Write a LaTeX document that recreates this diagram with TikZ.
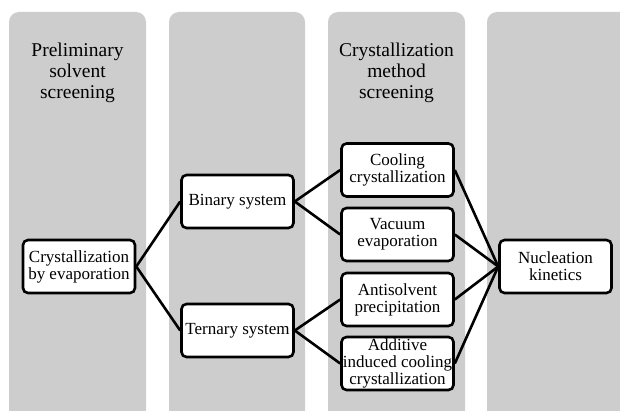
\documentclass[tikz,border=0pt]{standalone}
\usepackage{fontspec}
\setmainfont{Liberation Serif}
\usetikzlibrary{positioning}
\definecolor{colgray}{RGB}{205,205,205}

\begin{document}
\begin{tikzpicture}[x=1pt,y=1pt,
    column/.style={fill=colgray,rounded corners=10pt},
    heading/.style={align=center,font=\fontsize{19.5}{21}\selectfont},
    box/.style={draw,fill=white,line width=2.6pt,rounded corners=5pt,align=center,
      minimum width=112pt,minimum height=53pt,inner sep=1pt,
      font=\fontsize{17}{17}\selectfont},
    link/.style={line width=2.6pt}]
  \useasboundingbox (0,0) rectangle (620,410);
  \begin{scope}
    \clip (0,0) rectangle (620,410);
    \fill[column] (9,-10)   rectangle (146,398);
    \fill[column] (169,-10) rectangle (305,398);
    \fill[column] (328,-10) rectangle (465,398);
    \fill[column] (487,-10) rectangle (640,398);
  \end{scope}

  \node[heading] (h_1) at (77.5,337)  {Preliminary\\solvent\\screening};
  \node[heading] (h_3) at (396.5,337) {Crystallization\\method\\screening};

  \node[box] (evap) at (79,143.5)    {Crystallization\\by evaporation};
  \node[box] (bin)  at (237.5,208.5) {Binary system};
  \node[box] (ter)  at (237.5,79.5)  {Ternary system};
  \node[box] (cool) at (397.5,240)   {Cooling\\crystallization};
  \node[box] (vac)  at (397.5,175.5) {Vacuum\\evaporation};
  \node[box] (anti) at (397.5,110.5) {Antisolvent\\precipitation};
  \node[box] (add)  at (397.5,46.5)  {Additive\\induced cooling\\crystallization};
  \node[box] (nuc)  at (555.5,143.5) {Nucleation\\kinetics};

  \path[link]
    (evap.east) edge (bin.west)
    (evap.east) edge (ter.west)
    (bin.east)  edge (cool.west)
    (bin.east)  edge (vac.west)
    (ter.east)  edge (anti.west)
    (ter.east)  edge (add.west)
    (cool.east) edge (nuc.west)
    (vac.east)  edge (nuc.west)
    (anti.east) edge (nuc.west)
    (add.east)  edge (nuc.west);
\end{tikzpicture}
\end{document}
